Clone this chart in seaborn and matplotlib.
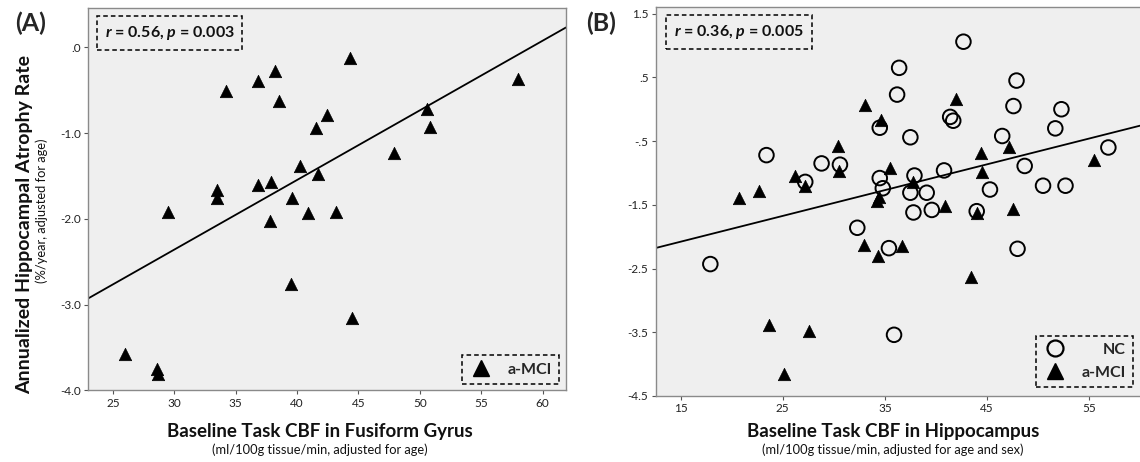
import numpy as np
import pandas as pd
import matplotlib
matplotlib.use("Agg")
import matplotlib.pyplot as plt
import seaborn as sns
from matplotlib.lines import Line2D
from matplotlib.ticker import FuncFormatter

# --- (A) a-MCI: fusiform gyrus CBF vs hippocampal atrophy rate ---
fus_cbf = [44.3, 38.2, 36.8, 34.2, 38.5, 58.0, 42.4, 41.5, 50.6, 50.8, 47.9, 40.2, 41.7, 36.8,
           37.9, 33.5, 33.5, 39.6, 29.5, 40.9, 43.2, 37.8, 39.5, 44.5, 26.0, 28.6, 28.7]
fus_atr = [-0.13, -0.28, -0.39, -0.51, -0.63, -0.37, -0.79, -0.94, -0.72, -0.93, -1.23, -1.38,
           -1.48, -1.60, -1.57, -1.66, -1.76, -1.76, -1.92, -1.93, -1.92, -2.02, -2.76, -3.15,
           -3.58, -3.75, -3.81]

# --- (B) hippocampus CBF, NC and a-MCI ---
nc_cbf = [42.7, 36.4, 47.9, 36.2, 47.6, 52.3, 41.4, 41.7, 34.5, 51.7, 37.5, 46.5, 23.4, 56.9,
          28.8, 30.6, 48.7, 40.8, 37.9, 34.5, 27.2, 34.8, 45.3, 50.5, 52.7, 37.5, 39.1, 37.8,
          39.6, 44.0, 32.3, 35.4, 48.0, 17.9, 35.9]
nc_atr = [1.06, 0.65, 0.45, 0.23, 0.05, 0.00, -0.12, -0.18, -0.29, -0.30, -0.44, -0.42, -0.72,
          -0.60, -0.85, -0.87, -0.89, -0.96, -1.04, -1.08, -1.14, -1.24, -1.26, -1.20, -1.20,
          -1.31, -1.31, -1.62, -1.58, -1.60, -1.86, -2.18, -2.19, -2.43, -3.54]
mci_cbf = [33.1, 42.0, 34.6, 30.4, 47.2, 44.4, 55.5, 35.5, 30.5, 44.5, 26.2, 37.8, 27.2, 22.7,
           20.7, 34.4, 34.2, 40.9, 47.6, 44.0, 33.0, 36.7, 34.3, 43.4, 23.6, 27.6, 25.1]
mci_atr = [0.06, 0.16, -0.17, -0.58, -0.60, -0.69, -0.80, -0.92, -0.97, -0.98, -1.05, -1.14,
           -1.20, -1.28, -1.39, -1.38, -1.44, -1.52, -1.56, -1.63, -2.13, -2.15, -2.30, -2.64,
           -3.38, -3.48, -4.15]

stats_a = r"$r$ = 0.56, $p$ = 0.003"
stats_b = r"$r$ = 0.36, $p$ = 0.005"

sns.set_theme(style="white")
plt.rcParams["font.family"] = ["Lato", "DejaVu Sans"]
plt.rcParams["mathtext.fontset"] = "custom"
plt.rcParams["mathtext.it"] = "Lato:italic:bold"
plt.rcParams["mathtext.rm"] = "Lato:bold"

BG = "#efefef"
SPINE = "#8a8a8a"


def spss_fmt(v, pos):
    s = f"{v:.1f}"
    if s.startswith("0.") or s.startswith("-0."):
        s = s.replace("0.", ".", 1)
    return s


def style_axes(ax, xticks, yticks, xlim, ylim):
    ax.set_facecolor(BG)
    ax.set_xlim(*xlim)
    ax.set_ylim(*ylim)
    ax.set_xticks(xticks)
    ax.set_yticks(yticks)
    ax.yaxis.set_major_formatter(FuncFormatter(spss_fmt))
    ax.tick_params(direction="out", length=3.2, width=0.8, color="#555555",
                   labelsize=8.5, labelcolor="#222222", pad=2,
                   bottom=True, left=True)
    for s in ax.spines.values():
        s.set_color(SPINE)
        s.set_linewidth(1.0)


def stats_box(ax, txt, xy):
    ax.text(xy[0], xy[1], txt, transform=ax.transAxes, ha="left", va="top",
            fontsize=11.5, fontweight="bold", color="#111111",
            bbox=dict(boxstyle="square,pad=0.5", fc=BG, ec="black",
                      lw=1.1, ls=(0, (3, 2))))


def dashed_legend(ax, handles, labels, anchor):
    leg = ax.legend(handles, labels, loc="lower right", bbox_to_anchor=anchor,
                    borderaxespad=0, fancybox=False, framealpha=1, facecolor=BG,
                    edgecolor="black", handlelength=1.5, handletextpad=0.9,
                    borderpad=0.45, labelspacing=0.55,
                    prop={"weight": "bold", "size": 11.5})
    leg.get_frame().set_linestyle((0, (3, 2)))
    leg.get_frame().set_linewidth(1.1)
    return leg


tri = Line2D([], [], marker="^", ls="", color="black", markersize=11.5)
circ = Line2D([], [], marker="o", ls="", mfc="none", mec="black", mew=1.6, markersize=11.5)

fig = plt.figure(figsize=(11.4, 4.62), dpi=100)
axA = fig.add_axes([0.0775, 0.1548, 0.4190, 0.8275])
axB = fig.add_axes([0.5752, 0.1429, 0.4248, 0.8413])

# ---------- panel A ----------
style_axes(axA, np.arange(25, 61, 5), np.arange(-4.0, 0.01, 1.0), (23.0, 61.9), (-4.0, 0.455))
sns.regplot(x=np.array(fus_cbf), y=np.array(fus_atr), scatter=False, ci=None, truncate=False,
            line_kws=dict(color="black", lw=1.3), ax=axA)
sns.scatterplot(x=fus_cbf, y=fus_atr, marker="^", s=80, color="black", edgecolor="black",
                linewidth=0.5, legend=False, ax=axA, zorder=3)
axA.set_xlim(23.0, 61.9)
axA.set_xlabel("")
axA.set_ylabel("")
stats_box(axA, stats_a, (0.034, 0.958))
dashed_legend(axA, [tri], ["a-MCI"], (0.985, 0.017))

# ---------- panel B ----------
style_axes(axB, np.arange(15, 56, 10), np.arange(-4.5, 1.6, 1.0), (12.55, 60.0), (-4.5, 1.6))
all_cbf = np.array(nc_cbf + mci_cbf)
all_atr = np.array(nc_atr + mci_atr)
sns.regplot(x=all_cbf, y=all_atr, scatter=False, ci=None, truncate=False,
            line_kws=dict(color="black", lw=1.3), ax=axB)
sns.scatterplot(x=nc_cbf, y=nc_atr, marker="o", s=110, facecolor="none", edgecolor="black",
                linewidth=1.4, legend=False, ax=axB, zorder=3)
sns.scatterplot(x=mci_cbf, y=mci_atr, marker="^", s=80, color="black", edgecolor="black",
                linewidth=0.5, legend=False, ax=axB, zorder=4)
axB.set_xlim(12.55, 60.0)
axB.set_xlabel("")
axB.set_ylabel("")
axB.spines["right"].set_visible(False)
stats_box(axB, stats_b, (0.038, 0.9586))
legB = dashed_legend(axB, [circ, tri], ["NC", "a-MCI"], (0.9855, 0.023))
legB.get_texts()[0].set_text("NC")

# right-align the legend labels in panel B (shift the shorter one)
fig.canvas.draw()
rend = fig.canvas.get_renderer()
widths = [t.get_window_extent(rend).width for t in legB.get_texts()]
for t, w in zip(legB.get_texts(), widths):
    t.set_position((max(widths) - w, 0))

# ---------- labels ----------
fig.text(31 / 1140, 1 - 23 / 462, "(A)", fontsize=18, fontweight="bold", ha="center", va="center")
fig.text(601 / 1140, 1 - 23 / 462, "(B)", fontsize=18, fontweight="bold", ha="center", va="center")

fig.text(25 / 1140, 1 - 225 / 462, "Annualized Hippocampal Atrophy Rate", rotation=90,
         fontsize=14, fontweight="bold", ha="center", va="center", color="#111111")
fig.text(42 / 1140, 1 - 211 / 462, "(%/year, adjusted for age)", rotation=90,
         fontsize=9.3, ha="center", va="center", color="#111111")

fig.text(320 / 1140, 1 - 431 / 462, "Baseline Task CBF in Fusiform Gyrus",
         fontsize=13.5, fontweight="bold", ha="center", va="center", color="#111111")
fig.text(320 / 1140, 1 - 450 / 462, "(ml/100g tissue/min, adjusted for age)",
         fontsize=9.3, ha="center", va="center", color="#111111")
fig.text(893 / 1140, 1 - 431 / 462, "Baseline Task CBF in Hippocampus",
         fontsize=13.5, fontweight="bold", ha="center", va="center", color="#111111")
fig.text(893 / 1140, 1 - 450 / 462, "(ml/100g tissue/min, adjusted for age and sex)",
         fontsize=9.3, ha="center", va="center", color="#111111")

fig.savefig("out.png", dpi=100, facecolor="white")
